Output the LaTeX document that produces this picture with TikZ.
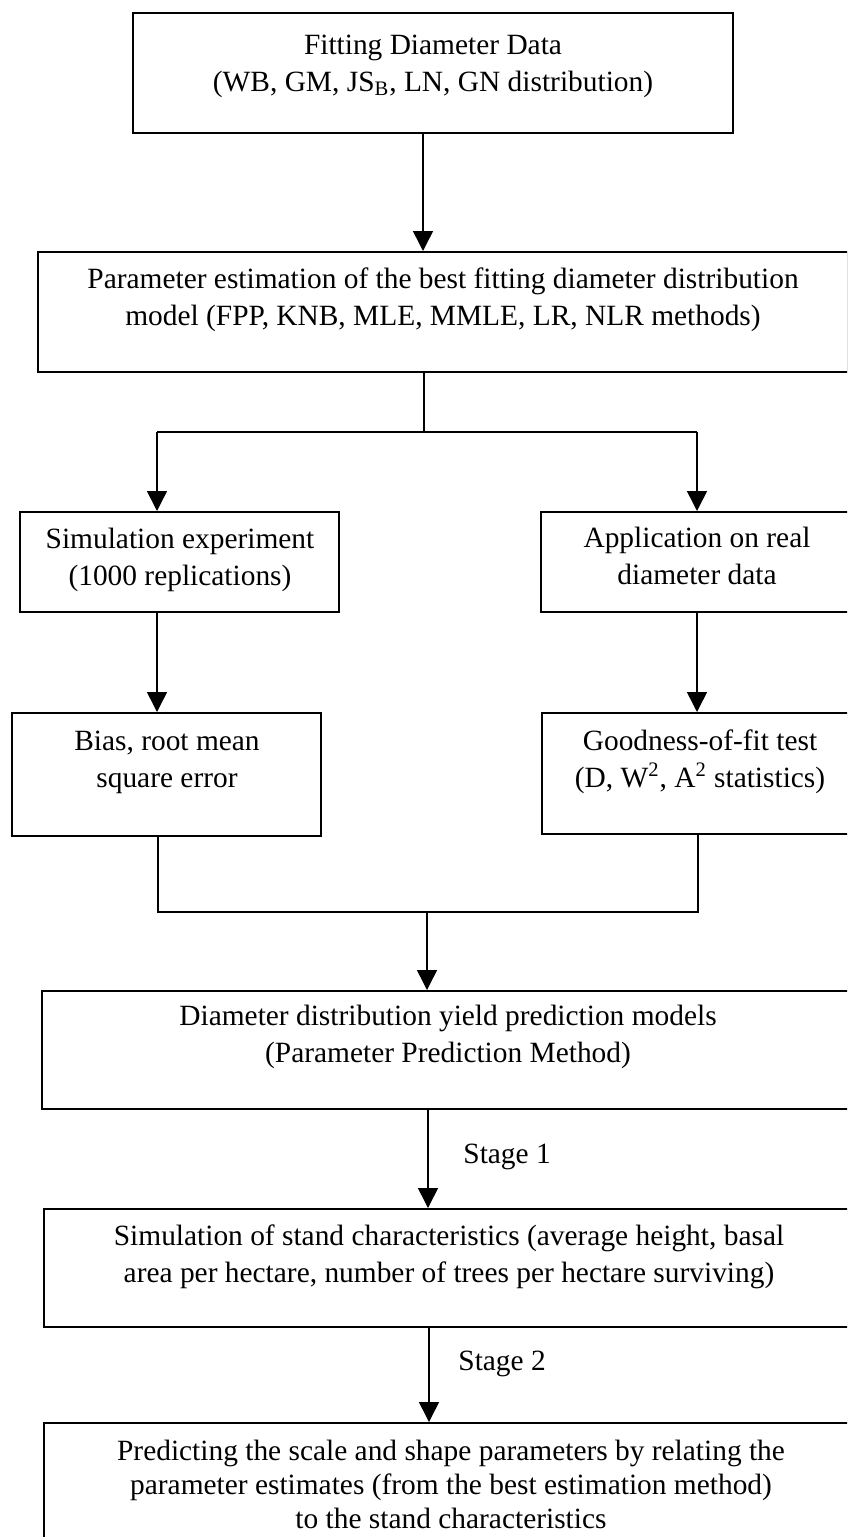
\documentclass[tikz,border=0pt]{standalone}
\usepackage{fontspec}
\setmainfont{Liberation Serif}
\usetikzlibrary{arrows.meta,fit}
\begin{document}
\begin{tikzpicture}[x=0.5pt,y=-0.5pt,
  box/.style={draw, line width=1pt, inner sep=0pt},
  txt/.style={align=center, anchor=base, inner sep=0pt, font=\fontsize{14.7}{18.5}\selectfont},
  txtb/.style={txt, font=\fontsize{14.7}{16.8}\selectfont},
  conn/.style={line width=0.75pt},
  arr/.style={conn, -{Triangle[width=10pt,length=10pt]}},
]
\clip (0,0) rectangle (847,1537);
\fill[white] (0,0) rectangle (847,1537);

% boxes
\node[box, fit={(133,13)(733,133)}] (b1) {};
\node[box, fit={(38,252)(848,372)}] (b2) {};
\node[box, fit={(20,512)(339,612)}] (b3) {};
\node[box, fit={(541,512)(853,612)}] (b4) {};
\node[box, fit={(12,713)(321,836)}] (b5) {};
\node[box, fit={(542,713)(858,834)}] (b6) {};
\node[box, fit={(42,991)(854,1109)}] (b7) {};
\node[box, fit={(44,1209)(854,1327)}] (b8) {};
\node[box, fit={(44,1423)(858,1560)}] (b9) {};

% texts (anchor base = baseline of the last line)
\node[txt] (t1) at (433,91) {Fitting Diameter Data\\(WB, GM, JS\textsubscript{B}, LN, GN distribution)};
\node[txt] (t2) at (443,325) {Parameter estimation of the best fitting diameter distribution\\model (FPP, KNB, MLE, MMLE, LR, NLR methods)};
\node[txt] (t3) at (180,585) {Simulation experiment\\(1000 replications)};
\node[txt] (t4) at (697,584) {Application on real\\diameter data};
\node[txt] (t5) at (167,787) {Bias, root mean\\square error};
\node[txt] (t6) at (700,787) {Goodness-of-fit test\\(D, W\textsuperscript{2}, A\textsuperscript{2} statistics)};
\node[txt] (t7) at (448,1062) {Diameter distribution yield prediction models\\(Parameter Prediction Method)};
\node[txt] (t8) at (449,1282) {Simulation of stand characteristics (average height, basal\\area per hectare, number of trees per hectare surviving)};
\node[txtb] (t9) at (451,1528) {Predicting the scale and shape parameters by relating the\\parameter estimates (from the best estimation method)\\to the stand characteristics};
\node[txt, anchor=base west] (s1) at (463,1163) {Stage 1};
\node[txt, anchor=base west] (s2) at (458,1370) {Stage 2};

% connector coordinates
\coordinate (x1) at (423,0);
\coordinate (j1) at (424,432);
\coordinate (l1) at (157,432);
\coordinate (r1) at (697,432);
\coordinate (l2) at (158,912);
\coordinate (r2) at (698,912);
\coordinate (j2) at (427,912);
\coordinate (x3) at (428,0);
\coordinate (x4) at (429,0);

% connectors
\draw[arr] (b1.south -| x1) -- (b2.north -| x1);
\draw[conn] (b2.south -| j1) -- (j1);
\draw[conn] (l1) -- (r1);
\draw[arr] (l1) -- (b3.north -| l1);
\draw[arr] (r1) -- (b4.north -| r1);
\draw[arr] (b3.south -| l1) -- (b5.north -| l1);
\draw[arr] (b4.south -| r1) -- (b6.north -| r1);
\draw[conn] (b5.south -| l2) -- (l2) -- (r2) -- (b6.south -| r2);
\draw[arr] (j2) -- (b7.north -| j2);
\draw[arr] (b7.south -| x3) -- (b8.north -| x3);
\draw[arr] (b8.south -| x4) -- (b9.north -| x4);
\end{tikzpicture}
\end{document}
